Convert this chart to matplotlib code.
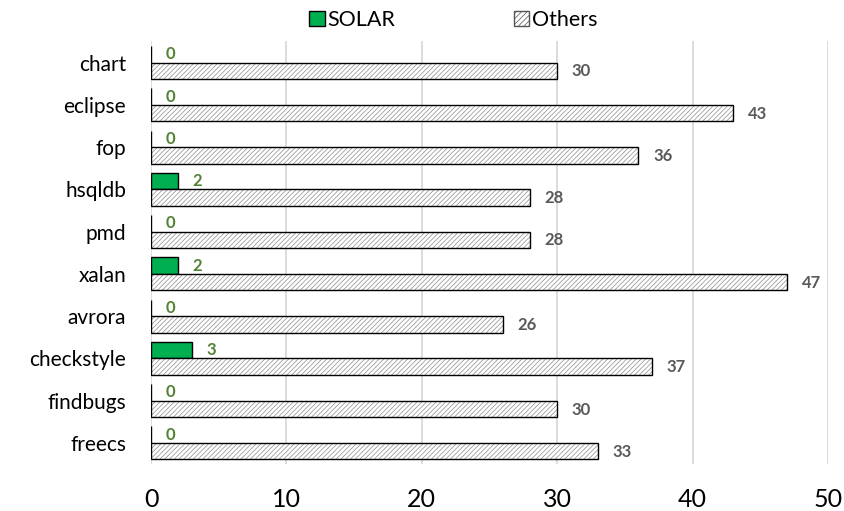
import matplotlib
matplotlib.use('Agg')
import matplotlib.pyplot as plt
import numpy as np
from matplotlib.patches import Patch

plt.rcParams['font.family'] = ['Lato', 'DejaVu Sans']
plt.rcParams['hatch.linewidth'] = 0.5
plt.rcParams['hatch.color'] = '#8c8c8c'

projects = ['chart', 'eclipse', 'fop', 'hsqldb', 'pmd', 'xalan', 'avrora',
            'checkstyle', 'findbugs', 'freecs']
solar = [0, 0, 0, 2, 0, 2, 0, 3, 0, 0]
others = [30, 43, 36, 28, 28, 47, 26, 37, 30, 33]

green = '#00B050'
y = np.arange(len(projects))
h = 0.39

fig, ax = plt.subplots(figsize=(8.44, 5.11), dpi=100)
fig.subplots_adjust(left=0.179, right=0.981, top=0.919, bottom=0.092)

ax.barh(y - h/2, solar, height=h, color=green, edgecolor='black', linewidth=1.0, zorder=3)
# hatched fill, then black outline on top
ax.barh(y + h/2, others, height=h, color='white', hatch='///////', edgecolor='#8c8c8c',
        linewidth=0, zorder=3)
ax.barh(y + h/2, others, height=h, fill=False, edgecolor='black', linewidth=1.0, zorder=4)

for yi, v in zip(y, solar):
    ax.annotate(str(v), (v, yi - h/2), xytext=(10.5, 0), textcoords='offset points',
                va='center', ha='left', fontsize=12, fontweight='bold', color='#548235')
for yi, v in zip(y, others):
    ax.annotate(str(v), (v, yi + h/2), xytext=(10.5, -0.5), textcoords='offset points',
                va='center', ha='left', fontsize=12, fontweight='bold', color='#595959')

ax.set_xlim(0, 50)
ax.set_xticks(np.arange(0, 51, 10))
ax.set_ylim(len(projects) - 0.5, -0.5)
ax.set_yticks(y)
ax.set_yticklabels(projects)
ax.tick_params(axis='both', length=0, colors='black')
ax.tick_params(axis='y', labelsize=15, pad=18)
ax.tick_params(axis='x', labelsize=18, pad=17)
ax.xaxis.grid(True, color='#d9d9d9', linewidth=1.3, zorder=0)
ax.set_axisbelow(True)
for s in ax.spines.values():
    s.set_visible(False)

handles = [Patch(facecolor=green, edgecolor='black', label='SOLAR'),
           Patch(facecolor='white', edgecolor='#555555', hatch='//////', label='Others')]
ax.legend(handles=handles, loc='center', bbox_to_anchor=(0.447, 1.05), ncol=2,
          frameon=False, fontsize=15.5, handlelength=0.7, handleheight=0.7,
          handletextpad=0.15, columnspacing=5.5, borderaxespad=0)

plt.savefig('out.png', dpi=100)
